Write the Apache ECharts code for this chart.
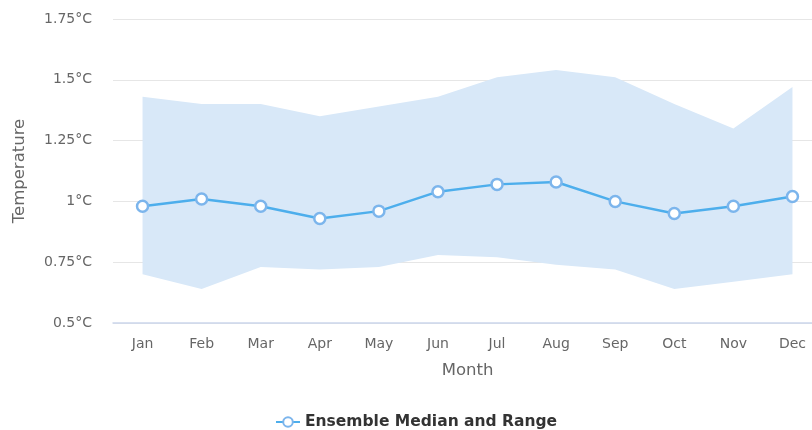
<!DOCTYPE html>
<html>
<head>
<meta charset="utf-8">
<script src="https://cdn.jsdelivr.net/npm/echarts@6/dist/echarts.min.js"></script>
<style>html,body{margin:0;padding:0;background:#fff}#c{width:812px;height:430px}</style>
</head>
<body>
<div id="c"></div>
<script>
var months = ['Jan','Feb','Mar','Apr','May','Jun','Jul','Aug','Sep','Oct','Nov','Dec'];
var median = [0.98, 1.01, 0.98, 0.93, 0.96, 1.04, 1.07, 1.08, 1.00, 0.95, 0.98, 1.02];
var upper  = [1.43, 1.40, 1.40, 1.35, 1.39, 1.43, 1.51, 1.54, 1.51, 1.40, 1.30, 1.47];
var lower  = [0.70, 0.64, 0.73, 0.72, 0.73, 0.78, 0.77, 0.74, 0.72, 0.64, 0.67, 0.70];
var yTicks = {min: 0.5, max: 1.75, interval: 0.25};

var spread = upper.map(function(u, i){ return +(u - lower[i]).toFixed(4); });
var font = "'DejaVu Sans'";
var chart = echarts.init(document.getElementById('c'));
chart.setOption({
  animation: false,
  textStyle: {fontFamily: font},
  grid: {left: 113, width: 709, top: 19, height: 304, outerBoundsMode: 'none', containLabel: false},
  legend: {
    top: 409, left: 270,
    data: ['Ensemble Median and Range'],
    itemWidth: 24, itemHeight: 12, itemGap: 10,
    textStyle: {fontFamily: font, fontSize: 15.5, fontWeight: 'bold', color: '#333'}
  },
  xAxis: {
    type: 'category', data: months, boundaryGap: true,
    name: 'Month', nameLocation: 'middle', nameGap: 39,
    nameTextStyle: {color: '#666', fontSize: 16.5, fontFamily: font},
    axisLine: {lineStyle: {color: '#ccd6eb', width: 1.5}},
    axisTick: {show: false},
    axisLabel: {color: '#666', fontSize: 14, margin: 14, fontFamily: font}
  },
  yAxis: {
    type: 'value', min: yTicks.min, max: yTicks.max, interval: yTicks.interval,
    name: 'Temperature', nameLocation: 'middle', nameGap: 85, nameRotate: 90,
    nameTextStyle: {color: '#666', fontSize: 16.5, fontFamily: font},
    axisLine: {show: false}, axisTick: {show: false},
    splitLine: {lineStyle: {color: '#e6e6e6'}},
    axisLabel: {color: '#666', fontSize: 14, margin: 21, fontFamily: font,
      formatter: function(v){ return v + '°C'; }}
  },
  series: [
    {name: 'lowerBase', type: 'line', stack: 'band', data: lower, symbol: 'none',
     lineStyle: {opacity: 0}, silent: true, z: 1},
    {name: 'range', type: 'line', stack: 'band', data: spread, symbol: 'none',
     lineStyle: {opacity: 0}, areaStyle: {color: '#d8e8f8', opacity: 1}, silent: true, z: 1},
    {name: 'Ensemble Median and Range', type: 'line', data: median,
     symbol: 'circle', symbolSize: 11,
     lineStyle: {color: '#4daeec', width: 2.5},
     itemStyle: {color: '#ffffff', borderColor: '#7cb5ec', borderWidth: 2.5},
     z: 3}
  ]
});
</script>
</body>
</html>
